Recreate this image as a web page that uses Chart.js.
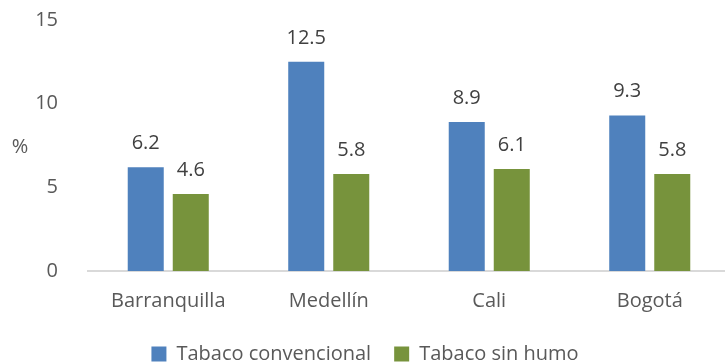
<!DOCTYPE html>
<html>
<head>
<meta charset="utf-8">
<script src="https://cdn.jsdelivr.net/npm/chart.js@4"></script>
<style>
  html, body { margin: 0; padding: 0; background: #fff; overflow: hidden; }
  #wrap { width: 725px; height: 364px; overflow: hidden; }
  #barChart { display: block; margin-top: -14px; }
</style>
</head>
<body>
<div id="wrap"><canvas id="barChart" width="730" height="403"></canvas></div>
<script>
const cities = ['Barranquilla', 'Medellín', 'Cali', 'Bogotá'];
const convencional = [6.2, 12.5, 8.9, 9.3];
const sinHumo = [4.6, 5.8, 6.1, 5.8];
const yTicks = [0, 5, 10, 15];

const textColor = '#595959';
const fontFamily = "'Open Sans', sans-serif";

// Draw the value above each bar
const valueLabels = {
    id: 'valueLabels',
    afterDatasetsDraw(chart) {
        const ctx = chart.ctx;
        ctx.save();
        ctx.fillStyle = '#404040';
        ctx.font = '20px ' + fontFamily;
        ctx.textAlign = 'center';
        ctx.textBaseline = 'bottom';
        chart.data.datasets.forEach((ds, i) => {
            chart.getDatasetMeta(i).data.forEach((bar, j) => {
                ctx.fillText(ds.data[j].toFixed(1), bar.x, bar.y - 14);
            });
        });
        ctx.restore();
    }
};

// "%" unit label on the left, not rotated
const unitLabel = {
    id: 'unitLabel',
    afterDraw(chart) {
        const ctx = chart.ctx;
        ctx.save();
        ctx.fillStyle = textColor;
        ctx.font = '20px ' + fontFamily;
        ctx.textAlign = 'center';
        ctx.textBaseline = 'middle';
        ctx.fillText('%', 20, chart.scales.y.getPixelForValue(7.4));
        ctx.restore();
    }
};

const ctx = document.getElementById('barChart').getContext('2d');
const chart = new Chart(ctx, {
    type: 'bar',
    data: {
        labels: cities,
        datasets: [
            {
                label: 'Tabaco convencional',
                data: convencional,
                backgroundColor: '#4F81BD',
                barPercentage: 0.8,
                categoryPercentage: 0.561
            },
            {
                label: 'Tabaco sin humo',
                data: sinHumo,
                backgroundColor: '#77933C',
                barPercentage: 0.8,
                categoryPercentage: 0.561
            }
        ]
    },
    options: {
        responsive: false,
        animation: false,
        layout: {
            padding: { top: 4, right: 0, left: 0, bottom: 15 }
        },
        scales: {
            x: {
                grid: { display: false },
                border: { color: '#d9d9d9', width: 2 },
                afterFit(scale) {
                    scale.height -= 2;
                },
                ticks: {
                    color: textColor,
                    font: { family: fontFamily, size: 20 },
                    padding: 10
                }
            },
            y: {
                min: 0,
                max: 15,
                afterBuildTicks(scale) {
                    scale.ticks = yTicks.map(v => ({ value: v }));
                },
                afterFit(scale) {
                    scale.width = 88;
                },
                grid: { display: false },
                border: { display: false },
                ticks: {
                    color: textColor,
                    font: { family: fontFamily, size: 20 },
                    padding: 22
                }
            }
        },
        plugins: {
            legend: {
                position: 'bottom',
                labels: {
                    color: textColor,
                    font: { family: fontFamily, size: 20 },
                    boxWidth: 15,
                    boxHeight: 15,
                    padding: 23
                }
            },
            tooltip: { enabled: false }
        }
    },
    plugins: [valueLabels, unitLabel]
});
</script>
</body>
</html>
